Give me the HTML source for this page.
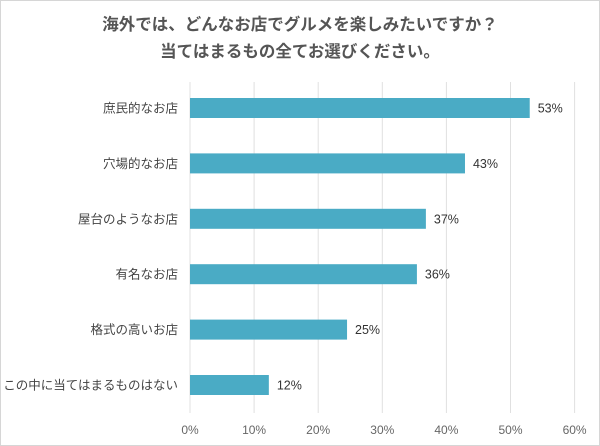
<!DOCTYPE html>
<html><head><meta charset="utf-8"><style>
body{margin:0;background:#fff}
svg{display:block;font-family:"Liberation Sans","Noto Sans CJK JP",sans-serif}
</style></head><body>
<svg id="c" width="600" height="446">
<rect x="0.5" y="0.5" width="599" height="445" fill="#fff" stroke="#d6d6d6"/>
<text x="300" y="30" text-anchor="middle" font-size="16.5" font-weight="bold" fill="#555">海外では、どんなお店でグルメを楽しみたいですか？</text>
<text x="300" y="57" text-anchor="middle" font-size="16.5" font-weight="bold" fill="#555">当てはまるもの全てお選びください。</text>
<g id="grid"></g><g id="bars"></g>
</svg>
<script>
const categories=["庶民的なお店","穴場的なお店","屋台のようなお店","有名なお店","格式の高いお店","この中に当てはまるものはない"];
const values=[53,42.9,36.8,35.4,24.5,12.3];
const labels=["53%","43%","37%","36%","25%","12%"];
const ticks=[0,10,20,30,40,50,60];
const ns="http://www.w3.org/2000/svg";
const x=v=>190+v*6.41;
const y=i=>108+i*55.4;
function mk(t,a,p,txt){const e=document.createElementNS(ns,t);for(const k in a)e.setAttribute(k,a[k]);if(txt!==undefined)e.textContent=txt;p.appendChild(e);return e;}
const g=document.getElementById('grid'),b=document.getElementById('bars');
ticks.forEach(t=>{
const l=mk('line',{x1:x(t),x2:x(t),y1:82,y2:413,stroke:'#e0e0e0','stroke-width':1},g);


const tx=mk('text',{x:x(t),y:434,'text-anchor':'middle','font-size':12,fill:'#666'},g,t+'%');


});
categories.forEach((c,i)=>{
const cl=mk('text',{x:178,y:y(i)+4.5,'text-anchor':'end','font-size':12.5,fill:'#444'},b,c);


const r=mk('rect',{x:x(0),y:y(i)-10,width:x(values[i])-x(0),height:20,fill:'#4aabc5'},b);


const v=mk('text',{x:x(values[i])+8,y:y(i)+4.5,'font-size':12.5,fill:'#333'},b,labels[i]);


});
</script>
</body></html>
